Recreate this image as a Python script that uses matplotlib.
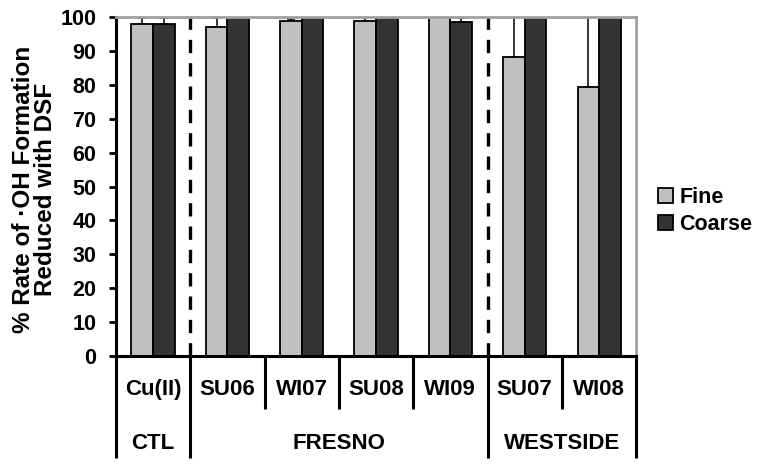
import matplotlib
matplotlib.use("Agg")
import matplotlib.pyplot as plt
import matplotlib.transforms as mtransforms
import numpy as np

plt.rcParams['font.family'] = ['Liberation Sans', 'DejaVu Sans']
plt.rcParams['font.weight'] = 'bold'

# data
samples = ["Cu(II)", "SU06", "WI07", "SU08", "WI09", "SU07", "WI08"]
sites = ["CTL", "FRESNO", "WESTSIDE"]
site_spans = [(0, 0), (1, 4), (5, 6)]
fine = [98.0, 97.2, 98.8, 98.7, 100.0, 88.3, 79.3]
coarse = [98.0, 100.0, 100.0, 100.0, 98.6, 100.0, 100.0]
fine_err = [1.8, 2.6, 0.6, 1.5, 0.0, 15.0, 25.0]
coarse_err = [1.8, 0.0, 0.0, 0.0, 1.2, 0.0, 0.0]

fig = plt.figure(figsize=(7.62, 4.65), dpi=100)
ax = fig.add_axes([0.152, 0.2344, 0.683, 0.729])

x = np.arange(len(samples))
w = 0.29
ax.bar(x - w/2, fine, w, color="#c0c0c0", edgecolor="black", linewidth=1.3,
       label="Fine", zorder=2)
ax.bar(x + w/2, coarse, w, color="#333333", edgecolor="black", linewidth=1.3,
       label="Coarse", zorder=2)
ax.errorbar(x - w/2, fine, yerr=[np.zeros(len(x)), fine_err], fmt="none",
            ecolor="black", elinewidth=1.1, capsize=3, capthick=1.1, zorder=1)
ax.errorbar(x + w/2, coarse, yerr=[np.zeros(len(x)), coarse_err], fmt="none",
            ecolor="black", elinewidth=1.1, capsize=3, capthick=1.1, zorder=1)

# dashed site dividers
for xd in [0.5, 4.5]:
    ax.plot([xd, xd], [0, 100], color="black", linewidth=2.4,
            linestyle=(0, (4, 3)), zorder=1, clip_on=False)

ax.set_xlim(-0.5, 6.5)
ax.set_ylim(0, 100)
ax.set_yticks(np.arange(0, 101, 10))
ax.set_xticks([])
ax.tick_params(axis="y", direction="out", length=5, width=2, pad=9,
               labelsize=15.5)
for lab in ax.get_yticklabels():
    lab.set_fontweight("bold")

ax.spines["left"].set_linewidth(2.2)
ax.spines["bottom"].set_linewidth(2.2)
for s in ["top", "right"]:
    ax.spines[s].set_color("#a0a0a0")
    ax.spines[s].set_linewidth(2)

# category axis below
trans = mtransforms.blended_transform_factory(ax.transData, ax.transAxes)
long_edges = [-0.5, 0.5, 4.5, 6.5]
for b in np.arange(-0.5, 7.0, 1.0):
    ybot = -0.30 if b in long_edges else -0.155
    ax.plot([b, b], [0, ybot], color="black", linewidth=2.2,
            transform=trans, clip_on=False, solid_capstyle="butt")
for i, s in enumerate(samples):
    ax.text(i, -0.100, s, transform=trans, ha="center", va="center",
            fontsize=16, fontweight="bold")
for name, (a, b) in zip(sites, site_spans):
    ax.text((a + b) / 2, -0.258, name, transform=trans, ha="center",
            va="center", fontsize=16, fontweight="bold")

fig.text(0.045, 1 - 189/465, "% Rate of \u00b7OH Formation\nReduced with DSF",
         rotation=90, ha="center", va="center", fontsize=17.5,
         fontweight="bold", linespacing=0.95)

ax.legend(loc="center left", bbox_to_anchor=(0.8635, 0.546),
          bbox_transform=fig.transFigure, frameon=False, fontsize=15.5,
          handlelength=0.7, handleheight=0.7, handletextpad=0.3,
          labelspacing=0.3, borderpad=0, borderaxespad=0)

fig.savefig("out.png", dpi=100)
